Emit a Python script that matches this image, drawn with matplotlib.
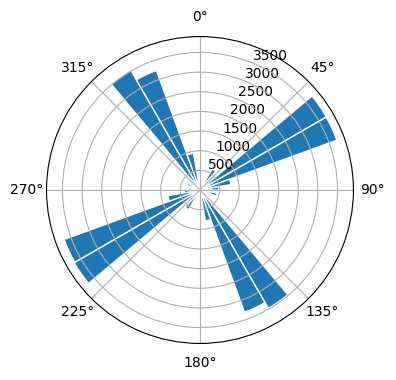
import matplotlib
matplotlib.use('Agg')
import matplotlib.pyplot as plt
import numpy as np

# wind direction bins (degrees, 10 deg wide) and counts
bin_edges = np.arange(0, 360, 10)
counts = [150, 200, 250, 620, 450, 3720, 3710, 800, 480,
          300, 450, 300, 250, 300, 3480, 3310, 800, 200,
          150, 200, 300, 580, 400, 3700, 3680, 830, 400,
          300, 250, 350, 300, 400, 3515, 3240, 950, 250]

fig = plt.figure(figsize=(3.96, 3.80), dpi=100)
ax = fig.add_axes([0.1175, 0.096, 0.775, 0.808], projection='polar')
ax.set_theta_zero_location('N')
ax.set_theta_direction(-1)

theta = np.deg2rad(bin_edges + 5)
ax.bar(theta, counts, width=np.deg2rad(10), color='#1f77b4',
       edgecolor='white', linewidth=1)
ax.set_rlabel_position(22.5)
ax.grid(True)

plt.savefig('out.png', dpi=100)
